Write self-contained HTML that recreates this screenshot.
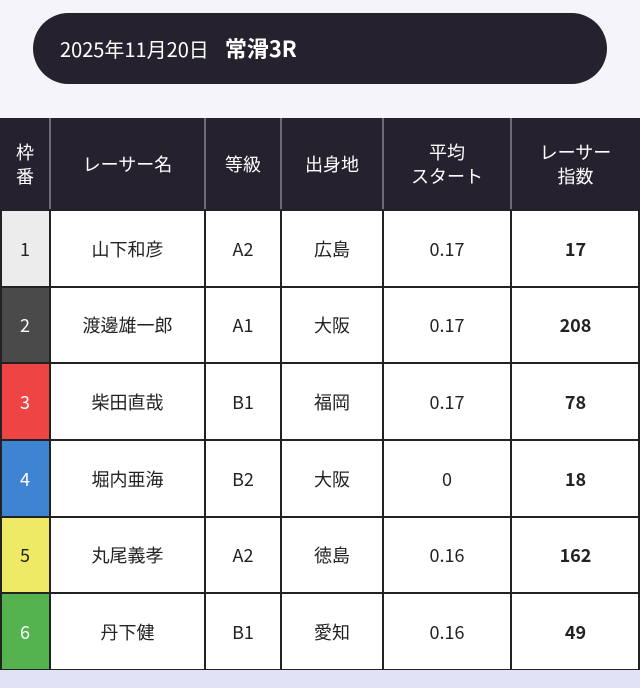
<!DOCTYPE html>
<html><head><meta charset="utf-8"><style>
html,body{margin:0;padding:0}
body{width:640px;height:688px;background:#f4f4fa;position:relative;overflow:hidden;font-family:"Noto Sans CJK JP","Liberation Sans",sans-serif;color:#222}
.pill{position:absolute;left:33px;top:13px;width:574px;height:71px;border-radius:36px;background:#25212f;color:#fff;box-sizing:border-box;padding-left:27px;line-height:71px;font-size:20px}
.pill b{font-size:22px;margin-left:16px}
.bot{position:absolute;left:0;top:670px;width:640px;height:18px;background:#e2e2f6}
.c{position:absolute;display:flex;align-items:center;justify-content:center;text-align:center;font-size:18px;line-height:24px}
.h{background:#25212f;color:#fff}
.l{position:absolute;background:#222}
.g{position:absolute;background:#6e6b78}
</style></head><body>
<div class="pill">2025年11月20日<b>常滑3R</b></div>
<div class="c h" style="left:0;top:118px;width:640px;height:92px"></div>
<div class="c" style="left:0;top:210px;width:640px;height:460px;background:#fff"></div>
<div id="cells"></div>
<script>
var xs=[0,50,205,281,383,511,640],ys=[118,210,287,363,440,517,593,670];
var H=["枠<br>番","レーサー名","等級","出身地","平均<br>スタート","レーサー<br>指数"];
var R=[["1","山下和彦","A2","広島","0.17","17","#ececec","#222"],["2","渡邊雄一郎","A1","大阪","0.17","208","#4a4a4a","#fff"],["3","柴田直哉","B1","福岡","0.17","78","#ee4444","#fff"],["4","堀内亜海","B2","大阪","0","18","#3f84d2","#fff"],["5","丸尾義孝","A2","徳島","0.16","162","#eeea66","#222"],["6","丹下健","B1","愛知","0.16","49","#55b34f","#fff"]];
var s="";
for(var i=0;i<6;i++)s+='<div class="c h" style="left:'+xs[i]+'px;top:118px;width:'+(xs[i+1]-xs[i])+'px;height:92px">'+H[i]+'</div>';
for(var r=0;r<6;r++)for(i=0;i<6;i++){var st='left:'+xs[i]+'px;top:'+ys[r+1]+'px;width:'+(xs[i+1]-xs[i])+'px;height:'+(ys[r+2]-ys[r+1])+'px;';
if(i==0)st+='background:'+R[r][6]+';color:'+R[r][7]+';';if(i==5)st+='font-weight:bold;';
s+='<div class="c" style="'+st+'">'+R[r][i]+'</div>';}
for(i=1;i<6;i++)s+='<div class="g" style="left:'+(xs[i]-1)+'px;top:118px;width:2px;height:92px"></div>';
for(i=0;i<7;i++){var x=Math.min(Math.max(xs[i]-1,0),638);s+='<div class="l" style="left:'+x+'px;top:209px;width:2px;height:462px"></div>';}
for(r=1;r<8;r++)s+='<div class="l" style="left:0;top:'+(ys[r]-1)+'px;width:640px;height:2px"></div>';
document.getElementById("cells").innerHTML=s;
</script>
<div class="bot"></div>
</body></html>
